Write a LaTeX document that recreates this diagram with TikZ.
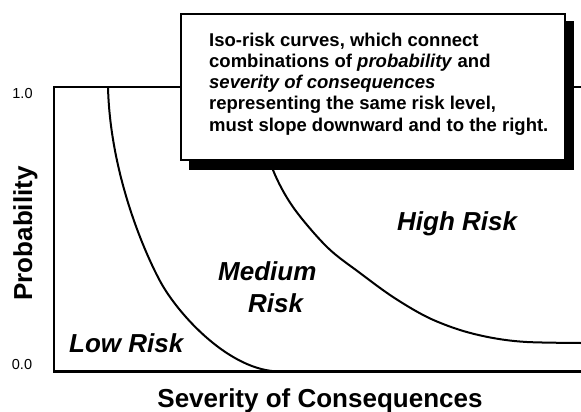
\documentclass[tikz,border=0pt]{standalone}
\usepackage{fontspec}
\setmainfont{Liberation Sans}
\begin{document}
\begin{tikzpicture}[x=1pt,y=-1pt,
  frameline/.style={line width=2.2pt, line join=miter},
  isocurve/.style={line width=2pt},
  region/.style={font=\fontsize{26}{30}\selectfont\bfseries\itshape, inner sep=0pt, anchor=base west},
  axistitle/.style={font=\fontsize{26}{30}\selectfont\bfseries, inner sep=0pt, anchor=base},
  ticklabel/.style={font=\fontsize{14.5}{16}\selectfont, inner sep=0pt},
  notebox/.style={draw, line width=2.4pt, fill=white},
  noteshadow/.style={fill=black}]
\useasboundingbox (0,0) rectangle (581,412);
% frame
\coordinate (tr) at (581,87);
\coordinate (tl) at (54,87);
\coordinate (bl) at (54,371.5);
\coordinate (br) at (581,371.5);
\draw[frameline] (tr) -- (tl) -- (bl) -- (br);
% iso-risk curves
\coordinate (c1a) at (108,87);
\coordinate (c1b) at (160,281);
\coordinate (c1c) at (280,371.5);
\draw[isocurve] (c1a) .. controls (110,170) and (142,247.5) .. (c1b)
  .. controls (178,314.5) and (230,371.5) .. (c1c);
\draw[isocurve] plot[smooth, tension=0.55] coordinates {(255,87) (262,130) (273,170) (293,207) (327,247) (360,273) (393,297) (427,317) (460,330) (493,338) (527,342) (581,343)};
% note box with shadow
\fill[noteshadow] (189,21) rectangle (574,169.5);
\draw[notebox] (181,14) rectangle (565,160);
\node[anchor=north west, inner sep=0pt, align=left, font=\fontsize{18.5}{21.2}\selectfont\bfseries] (note) at (209,32.7)
{Iso-risk curves, which connect\\
combinations of \textit{probability} and\\
\textit{severity of consequences}\\
representing the same risk level,\\
must slope downward and to the right.};
% labels
\node[region] (low) at (69,352.5) {Low Risk};
\node[region] (med1) at (218,280) {Medium};
\node[region] (med2) at (248,312) {Risk};
\node[region] (high) at (397,230) {High Risk};
\node[axistitle] (xtitle) at (320,407) {Severity of Consequences};
\node[axistitle, rotate=90] (ytitle) at (32,233.5) {Probability};
\node[ticklabel] (one) at (22.5,94) {1.0};
\node[ticklabel] (zero) at (22,364.5) {0.0};
\end{tikzpicture}
\end{document}
